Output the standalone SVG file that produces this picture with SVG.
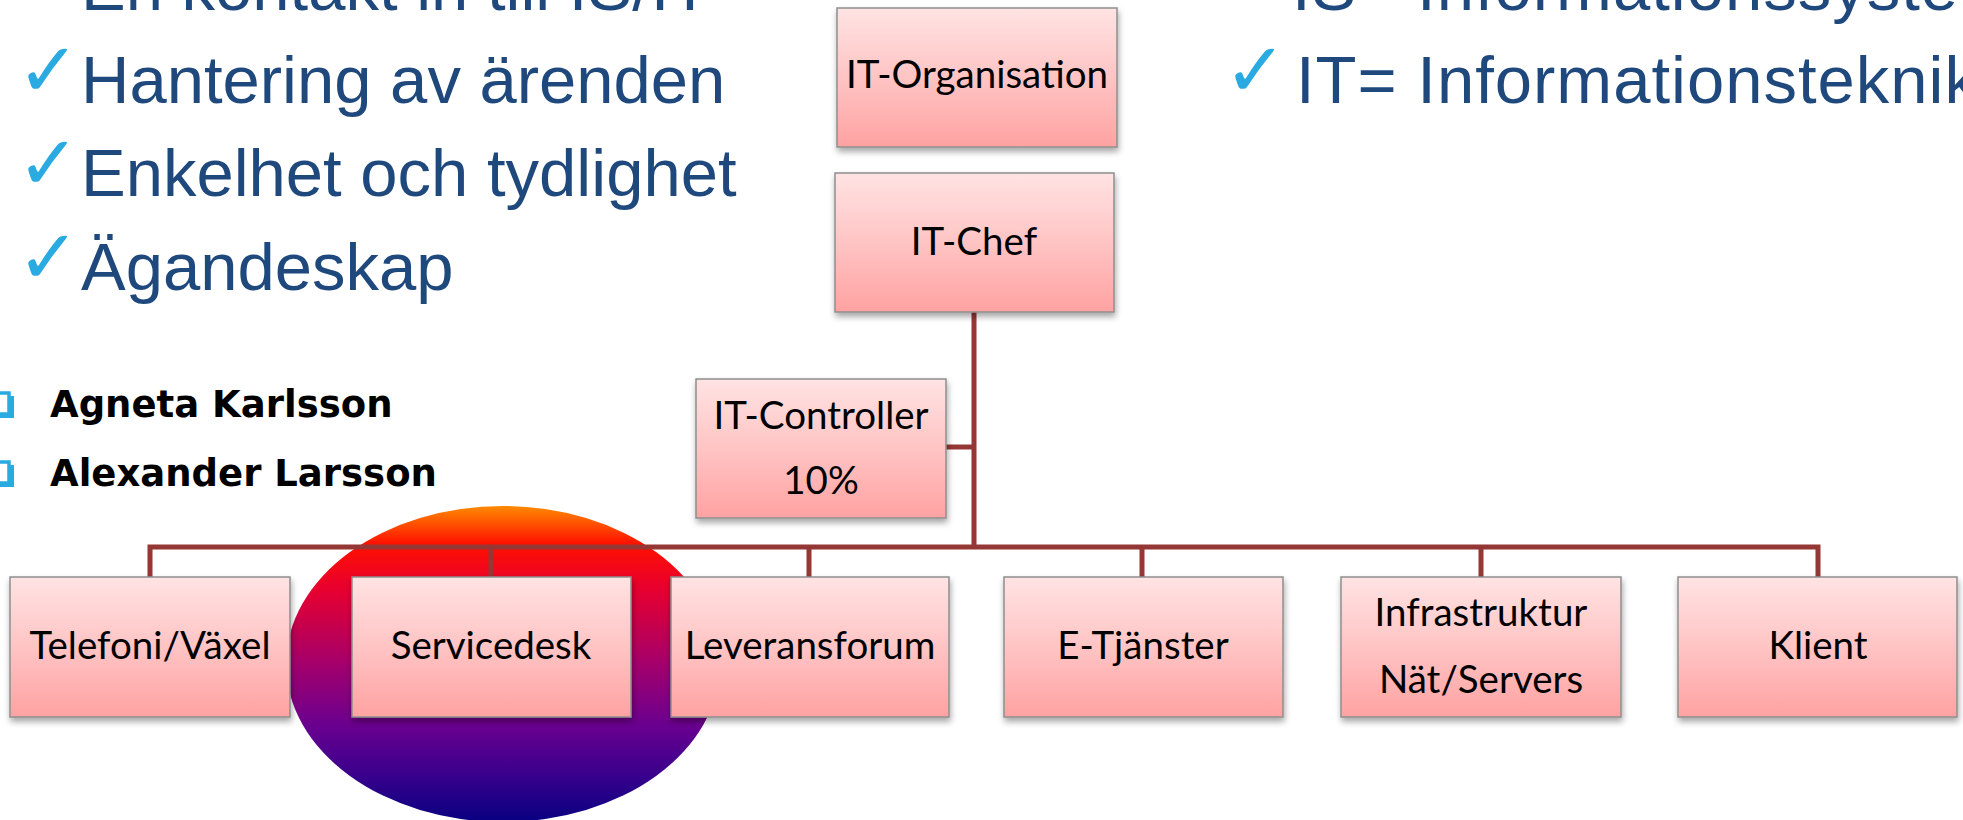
<svg xmlns="http://www.w3.org/2000/svg" width="1963" height="820" viewBox="0 0 1963 820">
<defs>
<linearGradient id="boxg" x1="0" y1="0" x2="0" y2="1">
<stop offset="0" stop-color="#FFE3E3"/>
<stop offset="0.5" stop-color="#FFC4C4"/>
<stop offset="1" stop-color="#FFA2A2"/>
</linearGradient>
<linearGradient id="ellg" x1="0" y1="0" x2="0" y2="1">
<stop offset="0" stop-color="#FF8A00"/>
<stop offset="0.12" stop-color="#FF1000"/>
<stop offset="0.26" stop-color="#E8002E"/>
<stop offset="0.5" stop-color="#A4006C"/>
<stop offset="0.7" stop-color="#680090"/>
<stop offset="0.86" stop-color="#36008C"/>
<stop offset="1" stop-color="#080080"/>
</linearGradient>
<filter id="sh" x="-10%" y="-10%" width="125%" height="130%">
<feDropShadow dx="1" dy="4" stdDeviation="3" flood-color="#000" flood-opacity="0.35"/>
</filter>
</defs>
<style>
.box{fill:url(#boxg);stroke:#8E8E8E;stroke-width:1.5;filter:url(#sh)}
.bt{font-family:Lato,"Open Sans",sans-serif;font-size:38.5px;fill:#000;text-anchor:middle}
.blue{font-family:"Liberation Sans",Arial,sans-serif;font-size:67px;fill:#1F497D}
.chk{font-family:"DejaVu Sans",sans-serif;font-size:75px;fill:#29ABE2}
.name{font-family:"DejaVu Sans",Verdana,sans-serif;font-size:37px;font-weight:bold;fill:#000}
.sq{fill:#FFFFFF;stroke:#29ABE2;stroke-width:3.5}
.sqs{fill:#29ABE2}
.con{stroke:#953735;stroke-width:5;fill:none}
</style>
<rect width="1963" height="820" fill="#FFFFFF"/>

<g id="bullets-left">
<text class="blue" x="81" y="10">En kontakt in till IS/IT</text>
<text class="chk" x="17" y="96">✓</text>
<text class="blue" x="81" y="103">Hantering av ärenden</text>
<text class="chk" x="17" y="189">✓</text>
<text class="blue" x="81" y="196">Enkelhet och tydlighet</text>
<text class="chk" x="17" y="283">✓</text>
<text class="blue" x="81" y="290">Ägandeskap</text>
</g>
<g id="bullets-right">
<text class="blue" x="1292" y="10" letter-spacing="1">IS= Informationssystem</text>
<text class="chk" x="1224" y="96">✓</text>
<text class="blue" x="1296" y="103" letter-spacing="1">IT= Informationsteknik</text>
</g>

<g id="names">
<rect class="sq" x="-10" y="393" width="19" height="21"/>
<rect class="sqs" x="9" y="396" width="5" height="22"/>
<rect class="sqs" x="-6" y="414" width="20" height="4"/>
<text class="name" x="50" y="417">Agneta Karlsson</text>
<rect class="sq" x="-10" y="462" width="19" height="21"/>
<rect class="sqs" x="9" y="465" width="5" height="22"/>
<rect class="sqs" x="-6" y="483" width="20" height="4"/>
<text class="name" x="50" y="486">Alexander Larsson</text>
</g>

<g id="ellipse">
<ellipse cx="503" cy="664" rx="217" ry="158" fill="url(#ellg)"/>
</g>

<g id="connectors">
<line class="con" x1="974" y1="312" x2="974" y2="549"/>
<line class="con" x1="946" y1="447" x2="974" y2="447"/>
<polyline class="con" points="150,577 150,547 1818,547 1818,577"/>
<line class="con" x1="491" y1="547" x2="491" y2="577"/>
<line class="con" x1="809" y1="547" x2="809" y2="577"/>
<line class="con" x1="1142" y1="547" x2="1142" y2="577"/>
<line class="con" x1="1481" y1="547" x2="1481" y2="577"/>
</g>

<g id="it-organisation">
<rect class="box" x="837" y="8" width="280" height="139"/>
<text class="bt" x="977" y="88">IT-Organisation</text>
</g>
<g id="it-chef">
<rect class="box" x="835" y="173" width="279" height="139"/>
<text class="bt" x="974" y="255">IT-Chef</text>
</g>
<g id="it-controller">
<rect class="box" x="696" y="379" width="250" height="139"/>
<text class="bt" x="821" y="429">IT-Controller</text>
<text class="bt" x="821" y="494">10%</text>
</g>
<g id="telefoni">
<rect class="box" x="10" y="577" width="280" height="140"/>
<text class="bt" x="150" y="659">Telefoni/Växel</text>
</g>
<g id="servicedesk">
<rect class="box" x="352" y="577" width="279" height="140"/>
<text class="bt" x="491" y="659">Servicedesk</text>
</g>
<g id="leveransforum">
<rect class="box" x="671" y="577" width="278" height="140"/>
<text class="bt" x="810" y="659">Leveransforum</text>
</g>
<g id="e-tjanster">
<rect class="box" x="1004" y="577" width="279" height="140"/>
<text class="bt" x="1143" y="659">E-Tjänster</text>
</g>
<g id="infrastruktur">
<rect class="box" x="1341" y="577" width="280" height="140"/>
<text class="bt" x="1481" y="626">Infrastruktur</text>
<text class="bt" x="1481" y="693">Nät/Servers</text>
</g>
<g id="klient">
<rect class="box" x="1678" y="577" width="279" height="140"/>
<text class="bt" x="1818" y="659">Klient</text>
</g>
</svg>
